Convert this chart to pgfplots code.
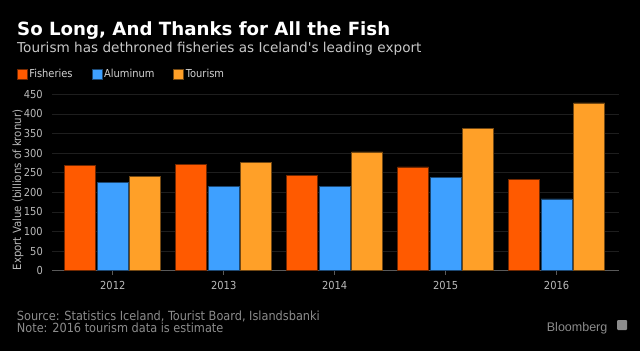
\documentclass[border=0pt]{standalone}
\usepackage{pgfplots}
\pgfplotsset{compat=1.18}
\usepackage{fontspec}
\setmainfont{DejaVu Sans Condensed}
\newfontfamily\titlefont{DejaVu Sans}
\newfontfamily\logofont{Liberation Sans}
\definecolor{fishC}{RGB}{255,90,0}
\definecolor{aluC}{RGB}{62,160,255}
\definecolor{tourC}{RGB}{255,160,40}
\definecolor{gridC}{RGB}{30,30,30}
\definecolor{axC}{RGB}{90,90,90}
\definecolor{subC}{RGB}{200,200,200}
\definecolor{legC}{RGB}{210,210,210}
\definecolor{tickC}{RGB}{185,185,185}
\definecolor{footC}{RGB}{140,140,140}
\begin{document}
\begin{tikzpicture}[x=1bp,y=1bp]
\useasboundingbox (0,0) rectangle (640,351);
\fill[black] (0,0) rectangle (640,351);
\begin{axis}[
  at={(52bp,80.3bp)}, anchor=south west,
  scale only axis, width=567bp, height=176.4bp,
  ybar=1.5bp, bar width=31bp,
  xmin=-0.548, xmax=4.563, ymin=0, ymax=450,
  xtick={0,1,2,3,4}, xticklabels={2012,2013,2014,2015,2016},
  ytick={0,50,...,450},
  ymajorgrids, grid style={draw=gridC, line width=0.8bp},
  axis x line*=bottom, axis y line*=left,
  x axis line style={-, draw=axC, line width=0.8bp},
  y axis line style={draw=none},
  xtick style={draw=axC, line width=0.8bp},
  ytick style={draw=none},
  tick align=outside, major tick length=4bp,
  /pgf/number format/assume math mode=true,
  ticklabel style={font=\fontsize{11bp}{13bp}\selectfont, text=tickC},
  yticklabel style={anchor=east, inner sep=0pt, xshift=-5bp},
  xticklabel style={anchor=north, inner sep=0pt, yshift=-6bp},
  ylabel={Export Value (billions of kronur)},
  ylabel style={at={(rel axis cs:-0.06,0.457)}, anchor=center, font=\fontsize{11.3bp}{13bp}\selectfont, text=tickC},
  legend columns=3,
  legend style={at={(rel axis cs:-0.0623,1.155)}, anchor=north west, draw=none, fill=none,
    text=legC, font=\fontsize{11bp}{13bp}\selectfont, inner sep=0pt,
    /tikz/every even column/.append style={column sep=17bp}},
  legend image code/.code={\draw[#1, line width=0.5bp] (0bp,-5bp) rectangle (10bp,5bp);},
]
\addplot[fill=fishC, draw=fishC!45!black, line width=0.6bp] coordinates {(0,268) (1,272) (2,244) (3,265) (4,232)};
\addplot[fill=aluC, draw=aluC!45!black, line width=0.6bp] coordinates {(0,226) (1,216) (2,215) (3,238) (4,183)};
\addplot[fill=tourC, draw=tourC!45!black, line width=0.6bp] coordinates {(0,240) (1,276) (2,303) (3,364) (4,428)};
\legend{Fisheries, Aluminum, Tourism}
\end{axis}
\node[anchor=base west, inner sep=0pt, text=white, font=\titlefont\bfseries\fontsize{18.2bp}{21bp}\selectfont] at (17,316) {So Long, And Thanks for All the Fish};
\node[anchor=base west, inner sep=0pt, text=subC, font=\titlefont\fontsize{13.6bp}{16bp}\selectfont] at (17,298.7) {Tourism has dethroned fisheries as Iceland's leading export};
\node[anchor=base west, inner sep=0pt, text=footC, font=\fontsize{12.6bp}{14bp}\selectfont] at (16.7,31) {Source: Statistics Iceland, Tourist Board, Islandsbanki};
\node[anchor=base west, inner sep=0pt, text=footC, font=\fontsize{12.6bp}{14bp}\selectfont] at (16.7,19) {Note: 2016 tourism data is estimate};
\node[anchor=base west, inner sep=0pt, text=footC, font=\logofont\fontsize{12.5bp}{14bp}\selectfont] at (546.7,20) {Bloomberg};
\fill[footC, rounded corners=1bp] (617,21) rectangle (627,31);
\end{tikzpicture}
\end{document}
